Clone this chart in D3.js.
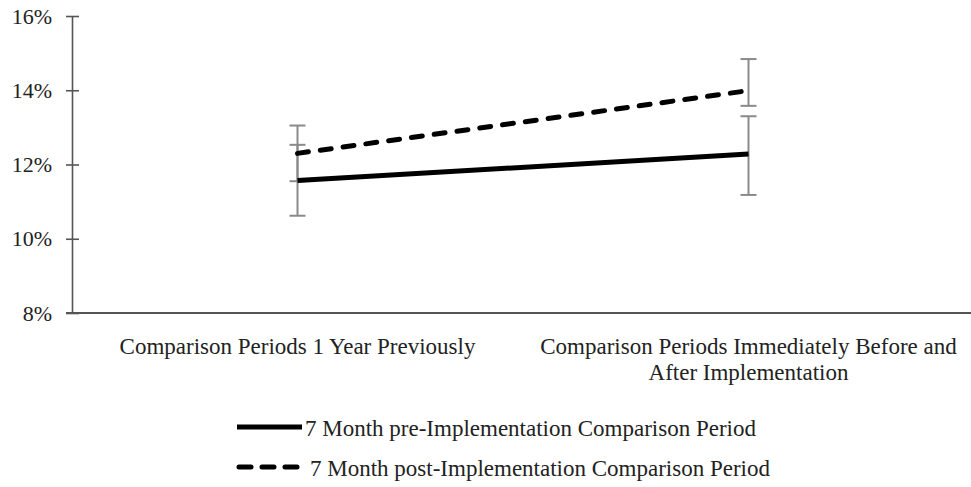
<!DOCTYPE html>
<html><head><meta charset="utf-8">
<script src="https://cdn.jsdelivr.net/npm/d3@7"></script>
<style>body{margin:0;background:#fff;} svg{display:block;} text{font-family:"Liberation Serif","Times New Roman",serif;fill:#222;}</style>
</head><body><svg id="c" width="971" height="487"></svg>
<script>
const categories = ["Comparison Periods 1 Year Previously", "Comparison Periods Immediately Before and|After Implementation"];
const seriesNames = ["7 Month pre-Implementation Comparison Period", "7 Month post-Implementation Comparison Period"];
const preValues = [11.57, 12.28];
const preLow = [10.62, 11.18];
const preHigh = [12.53, 13.30];
const postValues = [12.30, 13.99];
const postLow = [11.55, 13.58];
const postHigh = [13.05, 14.84];
const yTicks = [8, 10, 12, 14, 16];

const svg = d3.select("#c");
const x = d3.scalePoint().domain(categories).range([72, 974]).padding(0.5);
const y = d3.scaleLinear().domain([8, 16]).range([313, 16]);

// y axis
const yAxis = d3.axisLeft(y).tickValues(yTicks).tickFormat(d => d + "%").tickSizeInner(0).tickSizeOuter(0).tickPadding(20);
const gy = svg.append("g").attr("transform", "translate(72,0)").call(yAxis);
gy.select(".domain").attr("stroke", "#555").attr("stroke-width", 1.6);
gy.selectAll("text").style("font-size", "22px").attr("fill", "#333").style("font-family", '"Liberation Serif",serif');
gy.selectAll(".tick").append("line").attr("x1", -6).attr("x2", 7).attr("stroke", "#555").attr("stroke-width", 1.6);

// x axis
svg.append("line").attr("x1", 66).attr("x2", 971).attr("y1", y(8)).attr("y2", y(8)).attr("stroke", "#555").attr("stroke-width", 1.8);
categories.forEach(c => {
  const lines = c.split("|");
  const t = svg.append("text").attr("text-anchor", "middle").attr("x", x(c)).attr("y", 354).style("font-size", "23px");
  lines.forEach((l, i) => t.append("tspan").attr("x", x(c)).attr("dy", i === 0 ? 0 : 26).text(l));
});

const series = [
  {vals: postValues, lo: postLow, hi: postHigh, dash: "11,12"},
  {vals: preValues, lo: preLow, hi: preHigh, dash: null}
];
// error bars
series.forEach(s => {
  categories.forEach((c, i) => {
    const g = svg.append("g").attr("stroke", "#8a8a8a").attr("stroke-width", 2);
    g.append("line").attr("x1", x(c)).attr("x2", x(c)).attr("y1", y(s.lo[i])).attr("y2", y(s.hi[i]));
    [s.lo[i], s.hi[i]].forEach(v => g.append("line").attr("x1", x(c) - 8).attr("x2", x(c) + 8).attr("y1", y(v)).attr("y2", y(v)));
  });
});
// lines
const line = d3.line().x((d, i) => x(categories[i])).y(d => y(d));
series.forEach(s => {
  svg.append("path").datum(s.vals).attr("d", line).attr("fill", "none").attr("stroke", "#000").attr("stroke-width", 5)
    .attr("stroke-dasharray", s.dash).attr("stroke-linecap", s.dash ? "round" : "butt");
});

// legend
const leg = [{name: seriesNames[0], dash: null, y: 428}, {name: seriesNames[1], dash: "12,11", y: 468}];
leg.forEach(l => {
  svg.append("line").attr("x1", l.dash ? 239 : 237).attr("x2", l.dash ? 297 : 302).attr("y1", l.y - 1).attr("y2", l.y - 1)
    .attr("stroke", "#000").attr("stroke-width", 5).attr("stroke-dasharray", l.dash).attr("stroke-linecap", l.dash ? "round" : "butt");
  svg.append("text").attr("x", l.dash ? 310 : 305).attr("y", l.y + 8).style("font-size", "23px").text(l.name);
});
</script></body></html>
